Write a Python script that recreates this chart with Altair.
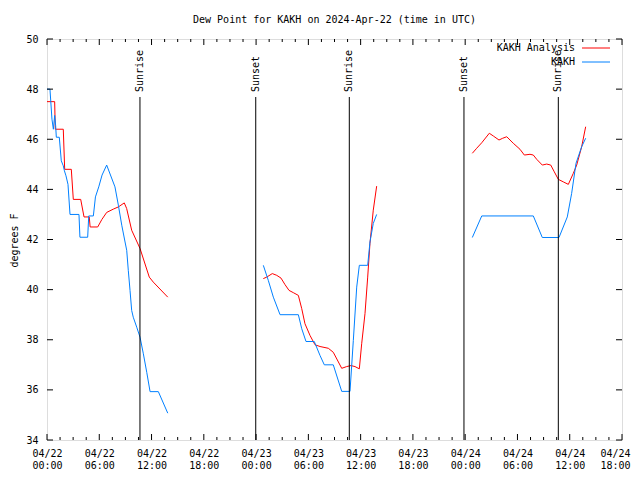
import altair as alt
import pandas as pd

# ---------------- data (hours since 2024-04-22 00:00 UTC, degrees F) -------------
series_names = ["KAKH Analysis", "KAKH"]
series_colors = ["#ff0000", "#0080ff"]

red_h_1 = [0, 0.88, 0.95, 1.87, 2.03, 2.79, 3.02, 3.87, 4.25, 4.85, 4.95, 5.82, 6.3, 6.85,
           7.6, 8.19, 8.87, 9.14, 9.72, 10.68, 11.74, 12.2, 13.86]
red_v_1 = [47.5, 47.5, 46.4, 46.4, 44.8, 44.8, 43.6, 43.6, 42.9, 42.9, 42.5, 42.5, 42.8, 43.08,
           43.21, 43.3, 43.46, 43.24, 42.37, 41.64, 40.5, 40.3, 39.7]
red_h_2 = [24.83, 25.22, 25.86, 26.37, 26.86, 27.32, 27.78, 28.27, 28.85, 29.24, 29.61, 30.19,
           30.76, 31.34, 32.29, 32.86, 33.83, 34.4, 34.89, 35.35, 35.85, 36.12, 36.5, 36.81,
           37.07, 37.45, 37.84]
red_v_2 = [40.44, 40.5, 40.64, 40.57, 40.46, 40.2, 39.97, 39.88, 39.77, 39.24, 38.64, 38.17,
           37.8, 37.73, 37.66, 37.5, 36.86, 36.93, 36.97, 36.93, 36.84, 37.84, 39.04, 40.5,
           41.84, 43.17, 44.13]
red_h_3 = [48.82, 49.32, 49.9, 50.77, 51.23, 51.88, 52.31, 52.77, 53.52, 54.29, 54.79, 55.44,
           55.82, 56.21, 56.85, 57.36, 57.82, 58.23, 58.69, 59.26, 59.84, 60.41, 60.8, 61.37,
           61.83]
red_v_3 = [45.44, 45.64, 45.86, 46.24, 46.13, 45.97, 46.04, 46.1, 45.84, 45.6, 45.37, 45.4,
           45.37, 45.2, 44.97, 45.01, 44.97, 44.7, 44.4, 44.3, 44.2, 44.64, 44.97, 45.7, 46.5]

blue_h_1 = [0, 0.34, 0.57, 0.73, 0.88, 0.99, 1.07, 1.41, 1.64, 1.87, 2.0, 2.18, 2.41, 2.64,
            3.67, 3.78, 4.67, 4.79, 5.32, 5.56, 5.94, 6.32, 6.85, 7.8, 8.19, 8.58, 8.96, 9.15,
            9.33, 9.53, 9.72, 9.9, 10.3, 10.68, 11.06, 11.45, 11.83, 12.78, 13.86]
blue_v_1 = [48.0, 48.0, 46.8, 46.4, 46.95, 46.55, 46.08, 46.08, 45.14, 44.94, 44.74, 44.54,
            44.2, 43.0, 43.0, 42.09, 42.09, 42.94, 42.94, 43.7, 44.1, 44.57, 44.97, 44.1, 43.37,
            42.57, 41.9, 41.57, 40.77, 39.97, 39.17, 38.9, 38.5, 38.1, 37.44, 36.7, 35.93,
            35.93, 35.07]
blue_h_2 = [24.83, 25.4, 25.98, 26.75, 28.85, 29.24, 29.73, 30.68, 31.34, 31.83, 32.86, 33.83,
            34.78, 35.16, 35.55, 35.85, 36.81, 37.07, 37.45, 37.84]
blue_v_2 = [40.97, 40.37, 39.7, 39.0, 39.0, 38.44, 37.93, 37.93, 37.37, 37.0, 37.0, 35.94,
            35.94, 37.97, 40.1, 40.97, 40.97, 41.9, 42.64, 43.0]
blue_h_3 = [48.82, 49.9, 55.82, 56.85, 58.77, 59.72, 60.22, 60.72, 61.37, 61.83]
blue_v_3 = [42.08, 42.94, 42.94, 42.08, 42.08, 42.9, 43.84, 45.04, 45.7, 46.04]

sun_hours = [10.67, 23.96, 34.7, 47.86, 58.69]
sun_labels = ["Sunrise", "Sunset", "Sunrise", "Sunset", "Sunrise"]

x_tick_values = [0, 6, 12, 18, 24, 30, 36, 42, 48, 54, 60, 66]
x_minor_values = [h + d for h in x_tick_values[:-1] for d in (1.5, 3.0, 4.5)]
x_date_labels = ["04/22", "04/22", "04/22", "04/22", "04/23", "04/23", "04/23", "04/23",
                 "04/24", "04/24", "04/24", "04/24"]
x_time_labels = ["00:00", "06:00", "12:00", "18:00", "00:00", "06:00", "12:00", "18:00",
                 "00:00", "06:00", "12:00", "18:00"]
y_tick_values = [34, 36, 38, 40, 42, 44, 46, 48, 50]

title_text = "Dew Point for KAKH on 2024-Apr-22 (time in UTC)"
y_title = "degrees F"

# ---------------- build tables ----------------
def seg_df(hs, vs, series, seg):
    return pd.DataFrame({"hour": hs, "value": vs, "series": series, "seg": seg})

red_df = pd.concat([seg_df(red_h_1, red_v_1, series_names[0], 1),
                    seg_df(red_h_2, red_v_2, series_names[0], 2),
                    seg_df(red_h_3, red_v_3, series_names[0], 3)])
blue_df = pd.concat([seg_df(blue_h_1, blue_v_1, series_names[1], 1),
                     seg_df(blue_h_2, blue_v_2, series_names[1], 2),
                     seg_df(blue_h_3, blue_v_3, series_names[1], 3)])
sun_df = pd.DataFrame({"hour": sun_hours, "label": sun_labels})
xt_df = pd.DataFrame({"hour": x_tick_values})
xm_df = pd.DataFrame({"hour": x_minor_values})
yt_df = pd.DataFrame({"value": y_tick_values})

W, H = 575, 401
FONT = "DejaVu Sans Mono"
FS = 10

label_expr = "[" + ",".join(f"['{d}','{t}']" for d, t in zip(x_date_labels, x_time_labels)) + \
    "][round(datum.value/6)]"

xscale = alt.Scale(domain=[0, 66], nice=False, zero=False)
yscale = alt.Scale(domain=[34, 50], nice=False, zero=False)
xaxis = alt.Axis(values=x_tick_values, labelExpr=label_expr, ticks=False, domain=False,
                 grid=False, labelFont=FONT, labelFontSize=FS, labelColor="black",
                 labelPadding=8, labelLineHeight=12, title=None, labelFlush=False,
                 labelOverlap=False,
                 labelOffset=alt.condition("datum.value == 66", alt.value(-7), alt.value(0)))
yaxis = alt.Axis(values=y_tick_values, ticks=False, domain=False, grid=False, labelFont=FONT,
                 labelFontSize=FS, labelColor="black", labelPadding=9, title=y_title,
                 titleFont=FONT, titleFontSize=FS, titleFontWeight="normal", titleColor="black",
                 titleX=-33, titleY=201, titleAngle=270, titleAlign="center",
                 titleBaseline="middle")

X = alt.X("hour:Q", scale=xscale, axis=xaxis)
Y = alt.Y("value:Q", scale=yscale, axis=yaxis)

red_line = alt.Chart(red_df).mark_line(color=series_colors[0], strokeWidth=1).encode(
    x=X, y=Y, detail="seg:N")
blue_line = alt.Chart(blue_df).mark_line(color=series_colors[1], strokeWidth=1).encode(
    x=X, y=Y, detail="seg:N")

sun_rules = alt.Chart(sun_df).mark_rule(color="black", strokeWidth=1).encode(
    x=X, y=alt.value(58), y2=alt.value(H))
sun_text = alt.Chart(sun_df).mark_text(angle=270, align="left", baseline="middle", font=FONT,
                                        fontSize=FS, color="black").encode(
    x=X, y=alt.value(53), text="label:N")

# inward border ticks
tick_layers = []
for df, ln in ((xt_df, 6), (xm_df, 3)):
    tick_layers.append(alt.Chart(df).mark_rule(color="black").encode(
        x=X, y=alt.value(H), y2=alt.value(H - ln)))
    tick_layers.append(alt.Chart(df).mark_rule(color="black").encode(
        x=X, y=alt.value(0), y2=alt.value(ln)))
tick_layers.append(alt.Chart(yt_df).mark_rule(color="black").encode(
    y=Y, x=alt.value(0), x2=alt.value(6)))
tick_layers.append(alt.Chart(yt_df).mark_rule(color="black").encode(
    y=Y, x=alt.value(W - 6), x2=alt.value(W)))

# key (gnuplot style: text then line sample), one row per series
legend_layers = []
for i, (name, col) in enumerate(zip(series_names, series_colors)):
    yy = 9 + 14 * i
    one = pd.DataFrame({"series": [name]})
    legend_layers.append(alt.Chart(one).mark_text(align="right", baseline="middle", font=FONT,
                                                  fontSize=FS, color="black").encode(
        x=alt.value(528), y=alt.value(yy), text="series:N"))
    legend_layers.append(alt.Chart(one).mark_rule(color=col, strokeWidth=1).encode(
        x=alt.value(535), x2=alt.value(563), y=alt.value(yy)))

chart = alt.layer(red_line, blue_line, sun_rules, sun_text, *tick_layers, *legend_layers).properties(
    width=W, height=H,
    title=alt.TitleParams(title_text, font=FONT, fontSize=FS, fontWeight="normal",
                          color="black", anchor="middle", offset=9),
    padding={"left": 39, "top": 31, "right": 10, "bottom": 30},
    autosize=alt.AutoSizeParams(type="none"),
).configure_view(stroke="black", strokeWidth=1).configure(background="white")

chart.save("out.html", embed_options={"renderer": "svg", "actions": False})
